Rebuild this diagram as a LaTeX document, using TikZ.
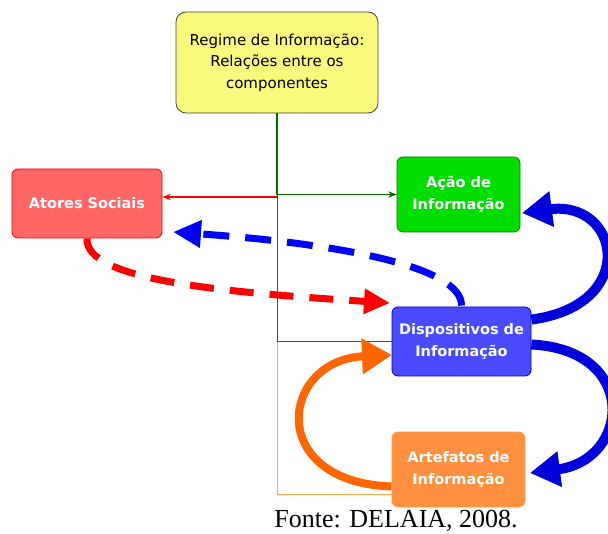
\documentclass[tikz,border=0pt]{standalone}
\usepackage{fontspec}
\setmainfont{DejaVu Sans}
\newfontfamily\capfont{Liberation Serif}
\usetikzlibrary{positioning, arrows.meta, calc}
\definecolor{regyellow}{HTML}{F9F97D}
\definecolor{atorred}{HTML}{FF6666}
\definecolor{acaogreen}{HTML}{00DD00}
\definecolor{dispblue}{HTML}{4A4AFF}
\definecolor{artorange}{HTML}{FF9040}
\definecolor{arrblue}{HTML}{0000DD}
\definecolor{arrorange}{HTML}{FF6600}
\definecolor{linegreen}{HTML}{006600}
\tikzset{box/.style={rounded corners=6pt,draw,line width=0.8pt,align=center,
        text=white,font=\bfseries\fontsize{14.5}{22}\selectfont,inner sep=0pt}}

\begin{document}
\begin{tikzpicture}[x=1pt,y=-1pt,>=Stealth]
  \useasboundingbox (0,0) rectangle (608,534);
  % boxes
  \node[box,rounded corners=10pt,fill=regyellow,draw=black!75,text=black,font=\fontsize{15}{21.5}\selectfont,
        minimum width=202pt,minimum height=101pt] (reg) at (277,62.5)
        {Regime de Informação:\\Relações entre os\\componentes};
  \node[box,fill=atorred,draw=red,minimum width=150pt,minimum height=69pt] (ator) at (87,203.5) {Atores Sociais};
  \node[box,fill=acaogreen,draw=green!50!black,minimum width=123pt,minimum height=75pt] (acao) at (458.5,194.5)
        {Ação de\\Informação};
  \node[box,fill=dispblue,draw=blue!80!black,minimum width=139pt,minimum height=69pt] (disp) at (461.5,341.5)
        {Dispositivos de\\Informação};
  \node[box,fill=artorange,draw=orange!70,minimum width=133pt,minimum height=75pt] (art) at (458.5,469.5)
        {Artefatos de\\Informação};
  \node[font=\capfont\fontsize{26}{30}\selectfont,anchor=base,inner sep=0pt] (fonte) at (396,527) {Fonte: DELAIA, 2008.};
  \coordinate (hub) at (277,197);
  \coordinate (artin) at (392,494);

  % thin connectors
  \draw[orange!70,line width=0.6pt] (reg.south |- disp.west) |- (artin);
  \draw[blue!80,line width=0.6pt] (reg.south) |- (disp.west);
  \draw[linegreen,line width=1.2pt,->] (reg.south) |- (acao.west);
  \draw[red,line width=1.2pt,->] (hub) -- (ator.east |- hub);

  % thick arrows
  \draw[blue,line width=7pt,dash pattern=on 26pt off 16pt,-{Triangle[length=28pt,width=26pt]}]
    (disp.north) ++(0,-1) .. controls (462,265) and (330,243) .. (173,232);
  \draw[red,line width=7pt,dash pattern=on 24pt off 16pt,-{Triangle[length=26pt,width=24pt]}]
    (ator.south) .. controls (85,280) and (220,292) .. (390,303);
  \draw[arrblue,line width=10pt,-{Triangle[length=30pt,width=34pt]}]
    (disp.north east) ++(0,13) .. controls (640,305) and (620,200) .. (522,213);
  \draw[arrblue,line width=10pt,-{Triangle[length=30pt,width=34pt]}]
    (disp.east) ++(0,3) .. controls (640,350) and (630,460) .. (530,473);
  \draw[arrorange,line width=8pt,-{Triangle[length=30pt,width=34pt]}]
    (art.west) ++(0,17) .. controls (265,482) and (280,360) .. (392,355);
\end{tikzpicture}
\end{document}
